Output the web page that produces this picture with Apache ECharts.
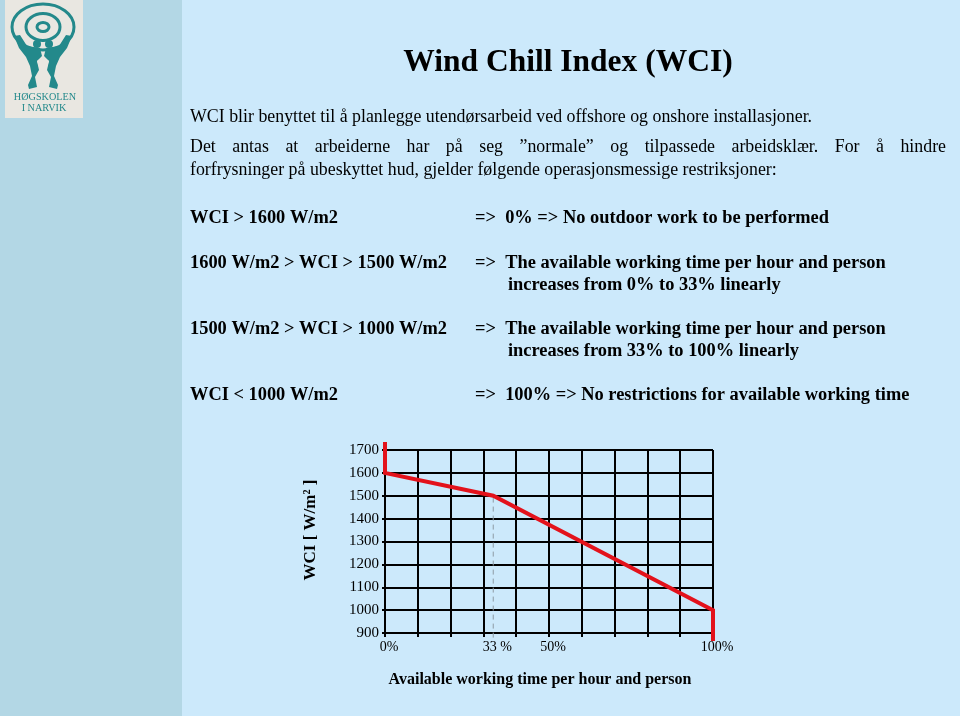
<!DOCTYPE html>
<html>
<head>
<meta charset="utf-8">
<script src="https://cdn.jsdelivr.net/npm/echarts@6/dist/echarts.min.js"></script>
<style>
html,body{margin:0;padding:0;background:#cce9fb;}
#main{width:960px;height:716px;}
</style>
</head>
<body>
<div id="main"></div>
<script>
// ---- data ----
var wciLine = [[0, 1735], [0, 1600], [33, 1500], [100, 1000], [100, 865]];
var marker33 = [[33, 1492], [33, 862]];
var yTicks = {min: 900, max: 1700, interval: 100};
var xTicks = {min: 0, max: 100, interval: 10};
var xLabelValues = [0, 33, 50, 100];
var xLabelText = {0: '0%', 33: '33 %', 50: '50%', 100: '100%'};

var title = 'Wind Chill Index (WCI)';
var para1 = 'WCI blir benyttet til å planlegge utendørsarbeid ved offshore og onshore installasjoner.';
var para2 = 'Det antas at arbeiderne har på seg ”normale” og tilpassede arbeidsklær. For å hindre';
var para3 = 'forfrysninger på ubeskyttet hud, gjelder følgende operasjonsmessige restriksjoner:';
var ruleLeft = ['WCI > 1600 W/m2', '1600 W/m2 > WCI > 1500 W/m2', '1500 W/m2 > WCI > 1000 W/m2', 'WCI < 1000 W/m2'];
var ruleRight = [
  ['=>  0% => No outdoor work to be performed'],
  ['=>  The available working time per hour and person', 'increases from 0% to 33% linearly'],
  ['=>  The available working time per hour and person', 'increases from 33% to 100% linearly'],
  ['=>  100% => No restrictions for available working time']
];
var yName = 'WCI [ W/m² ]';
var xName = 'Available working time per hour and person';

// ---- layout ----
var SERIF = '"Liberation Serif", "Times New Roman", serif';
var teal = '#23898b';
var beige = '#e9e7e1';
var g = [];
g.push({type: 'rect', shape: {x: 0, y: 0, width: 960, height: 716}, style: {fill: '#cce9fb'}, z: -10});
g.push({type: 'rect', shape: {x: 0, y: 0, width: 182, height: 716}, style: {fill: '#b3d7e5'}, z: -9});
// logo
g.push({type: 'rect', shape: {x: 5, y: 0, width: 78, height: 118}, style: {fill: beige}, z: -8});
[[31, 23], [17, 13.5], [6, 4.5]].forEach(function (r) {
  g.push({type: 'ellipse', shape: {cx: 43, cy: 27, rx: r[0], ry: r[1]}, style: {fill: null, stroke: teal, lineWidth: 3}});
});
// two figures holding the ring
g.push({type: 'polygon', shape: {points: [[14, 36], [20, 35], [27, 46], [40, 48], [42, 56], [37, 61], [39, 70], [35, 77], [37, 87], [29, 89], [28, 85], [32, 76], [30, 66], [26, 57], [19, 48]]}, style: {fill: teal}});
g.push({type: 'polygon', shape: {points: [[72, 36], [66, 35], [59, 46], [46, 48], [44, 56], [49, 61], [47, 70], [51, 77], [49, 87], [57, 89], [58, 85], [54, 76], [56, 66], [60, 57], [67, 48]]}, style: {fill: teal}});
g.push({type: 'polygon', shape: {points: [[37, 61], [43, 57], [49, 61], [46, 70], [43, 78], [40, 70]]}, style: {fill: beige}});
g.push({type: 'circle', shape: {cx: 37, cy: 44, r: 4}, style: {fill: teal}});
g.push({type: 'circle', shape: {cx: 49, cy: 44, r: 4}, style: {fill: teal}});
g.push({type: 'text', style: {text: 'HØGSKOLEN', x: 45, y: 97, font: '10.2px ' + SERIF, fill: teal, align: 'center', verticalAlign: 'middle'}});
g.push({type: 'text', style: {text: 'I NARVIK', x: 44, y: 108, font: '10.2px ' + SERIF, fill: teal, align: 'center', verticalAlign: 'middle'}});

// title & text
g.push({type: 'text', style: {text: title, x: 568, y: 63, font: 'bold 31.5px ' + SERIF, fill: '#000', align: 'center', verticalAlign: 'middle'}});
var bodyFont = '17.85px ' + SERIF;
g.push({type: 'text', style: {text: para1, x: 190, y: 117, font: bodyFont, fill: '#000', verticalAlign: 'middle'}});
g.push({type: 'text', style: {text: para3, x: 190, y: 170, font: bodyFont, fill: '#000', verticalAlign: 'middle'}});
// justified line
(function () {
  var ctx = document.createElement('canvas').getContext('2d');
  ctx.font = bodyFont;
  var words = para2.split(' ');
  var widths = words.map(function (w) { return ctx.measureText(w).width; });
  var sum = widths.reduce(function (a, b) { return a + b; }, 0);
  var left = 190, right = 946;
  var gap = (right - left - sum) / (words.length - 1);
  var x = left;
  words.forEach(function (w, i) {
    g.push({type: 'text', style: {text: w, x: x, y: 147, font: bodyFont, fill: '#000', verticalAlign: 'middle'}});
    x += widths[i] + gap;
  });
})();
var boldFont = 'bold 18.4px ' + SERIF;
var rowY = [218, 263, 329, 395];
ruleLeft.forEach(function (t, i) {
  g.push({type: 'text', style: {text: t, x: 190, y: rowY[i], font: boldFont, fill: '#000', verticalAlign: 'middle'}});
  ruleRight[i].forEach(function (line, j) {
    g.push({type: 'text', style: {text: line, x: j === 0 ? 475 : 508, y: rowY[i] + j * 22, font: boldFont, fill: '#000', verticalAlign: 'middle'}});
  });
});
// axis names
g.push({type: 'text', rotation: Math.PI / 2, x: 311, y: 530, style: {text: yName, x: 0, y: 0, font: 'bold 17px ' + SERIF, fill: '#000', align: 'center', verticalAlign: 'middle'}});
g.push({type: 'text', style: {text: xName, x: 540, y: 680, font: 'bold 16px ' + SERIF, fill: '#000', align: 'center', verticalAlign: 'middle'}});

var chart = echarts.init(document.getElementById('main'), null, {renderer: 'canvas'});
chart.setOption({
  animation: false,
  backgroundColor: 'transparent',
  graphic: {elements: g},
  grid: {left: 385, top: 450, width: 328, height: 183, outerBoundsMode: 'none', containLabel: false},
  xAxis: {
    type: 'value', min: xTicks.min, max: xTicks.max, interval: xTicks.interval,
    axisLine: {show: true, onZero: false, lineStyle: {color: '#000', width: 2}},
    axisTick: {show: true, length: 4, lineStyle: {color: '#000', width: 2}},
    splitLine: {show: true, lineStyle: {color: '#000', width: 2}},
    axisLabel: {
      customValues: xLabelValues, margin: 7, padding: [0, 0, 0, 8],
      fontFamily: SERIF, fontSize: 14, color: '#000',
      formatter: function (v) { return xLabelText[v] || ''; }
    }
  },
  yAxis: {
    type: 'value', min: yTicks.min, max: yTicks.max, interval: yTicks.interval,
    axisLine: {show: true, lineStyle: {color: '#000', width: 2}},
    axisTick: {show: true, length: 3, lineStyle: {color: '#000', width: 2}},
    splitLine: {show: true, lineStyle: {color: '#000', width: 2}},
    axisLabel: {margin: 6, padding: [0, 0, 6, 0], fontFamily: SERIF, fontSize: 15, color: '#000',
      formatter: function (v) { return String(v); }}
  },
  series: [
    {type: 'line', data: marker33, clip: false, symbol: 'none', silent: true, z: 3,
     lineStyle: {color: '#8e9ba5', width: 1, type: [5, 4]}},
    {type: 'line', data: wciLine, clip: false, symbol: 'none', z: 5,
     lineStyle: {color: '#e3121b', width: 4, join: 'miter'}}
  ]
});
</script>
</body>
</html>
